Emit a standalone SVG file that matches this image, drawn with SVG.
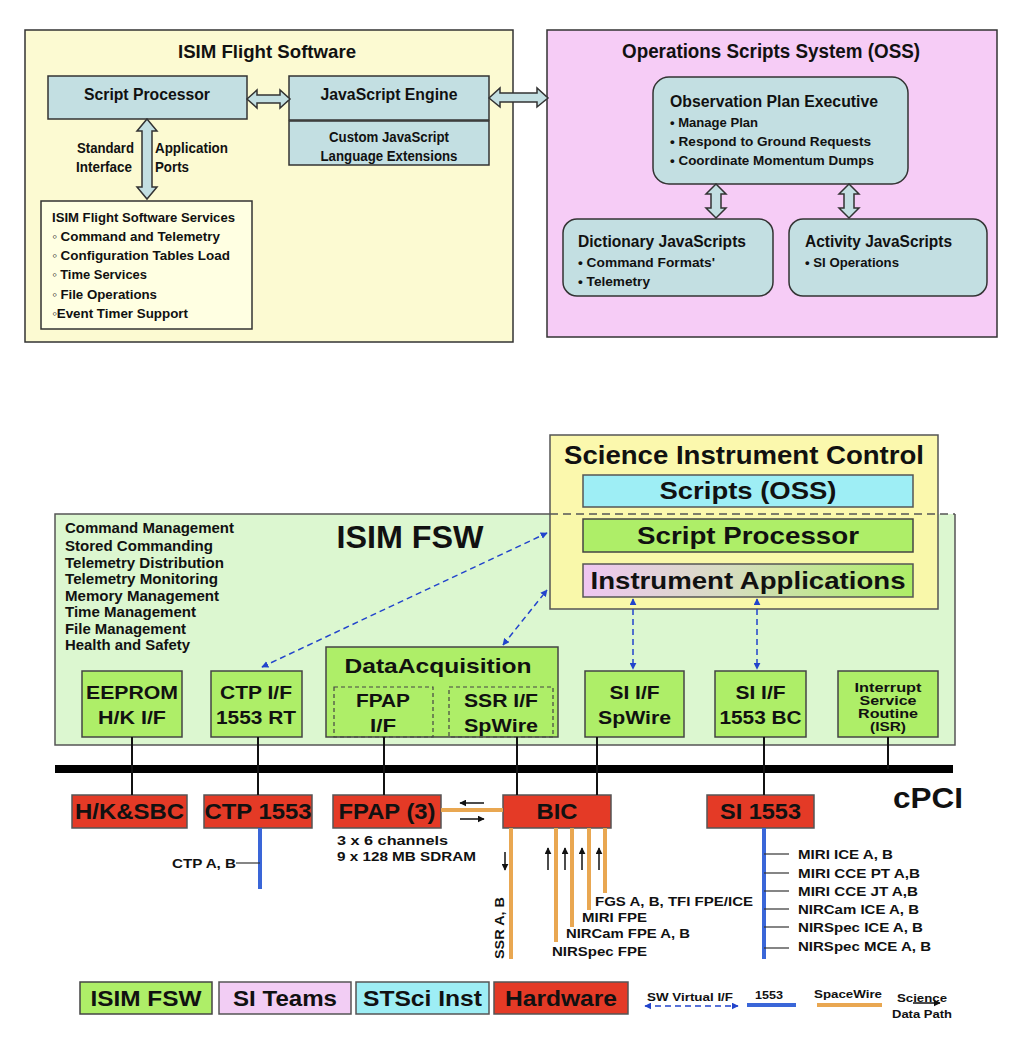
<svg xmlns="http://www.w3.org/2000/svg" width="1022" height="1053" viewBox="0 0 1022 1053">
<style>
text{font-family:"Liberation Sans",Arial,sans-serif;font-weight:bold;fill:#111}
.c{text-anchor:middle}
.e{text-anchor:end}
.blk{fill:#C3DFE2;stroke:#333;stroke-width:1.5}
.grn{fill:#AEEE68;stroke:#444;stroke-width:1.5}
.red{fill:#E43A26;stroke:#555;stroke-width:1.5}
.dash{fill:none;stroke:#444;stroke-width:1.2;stroke-dasharray:4 3}
.bar{fill:#C3DFE2;stroke:#333;stroke-width:1.5}
.wire{stroke:#111;stroke-width:2;fill:none}
.sw{stroke:#E9A751;stroke-width:4;fill:none}
.b1553{stroke:#3A66D8;stroke-width:4;fill:none}
.virt{stroke:#2244CC;stroke-width:1.5;stroke-dasharray:6 4;fill:none;marker-start:url(#bh);marker-end:url(#bh)}
.data{stroke:#111;stroke-width:1.5;fill:none;marker-end:url(#ah)}
.tick{stroke:#333;stroke-width:1.2}
</style>
<defs>
<marker id="bh" viewBox="0 0 10 10" refX="9" refY="5" markerWidth="7" markerHeight="7" markerUnits="userSpaceOnUse" orient="auto-start-reverse"><path d="M0,0 L10,5 L0,10 z" fill="#2244CC"/></marker>
<marker id="ah" viewBox="0 0 10 10" refX="9" refY="5" markerWidth="7" markerHeight="7" markerUnits="userSpaceOnUse" orient="auto"><path d="M0,0 L10,5 L0,10 z" fill="#111"/></marker>
<linearGradient id="ia" x1="0" y1="0" x2="1" y2="0"><stop offset="0" stop-color="#EFC6F2"/><stop offset="0.45" stop-color="#D6DDBF"/><stop offset="1" stop-color="#ADEE66"/></linearGradient>
</defs>
<rect width="1022" height="1053" fill="#fff"/>

<!-- TOP LEFT: ISIM Flight Software -->
<g id="isim-flight-software">
<rect x="25" y="30" width="488" height="312" fill="#FCFAD2" stroke="#333" stroke-width="1.5"/>
<text class="c" x="267" y="58" font-size="19" textLength="178" lengthAdjust="spacingAndGlyphs">ISIM Flight Software</text>
</g>
<g id="script-processor-top">
<rect class="blk" x="48" y="76" width="199" height="43"/>
<text class="c" x="147" y="100" font-size="16" textLength="126" lengthAdjust="spacingAndGlyphs">Script Processor</text>
</g>
<g id="javascript-engine">
<rect class="blk" x="289" y="76" width="200" height="44"/>
<text class="c" x="389" y="100" font-size="16" textLength="137" lengthAdjust="spacingAndGlyphs">JavaScript Engine</text>
</g>
<g id="custom-js-ext">
<rect class="blk" x="289" y="121" width="200" height="44"/>
<text class="c" x="389" y="142" font-size="14" textLength="120" lengthAdjust="spacingAndGlyphs">Custom JavaScript</text>
<text class="c" x="389" y="161" font-size="14" textLength="137" lengthAdjust="spacingAndGlyphs">Language Extensions</text>
</g>
<g id="fsw-services">
<rect x="41" y="201" width="211" height="128" fill="#FFFFE2" stroke="#333" stroke-width="1.5"/>
<text x="52" y="222" font-size="13.5" textLength="183" lengthAdjust="spacingAndGlyphs">ISIM Flight Software Services</text>
<text x="52" y="241" font-size="13.5" textLength="168" lengthAdjust="spacingAndGlyphs">◦ Command and Telemetry</text>
<text x="52" y="260" font-size="13.5" textLength="178" lengthAdjust="spacingAndGlyphs">◦ Configuration Tables Load</text>
<text x="52" y="279" font-size="13.5" textLength="95" lengthAdjust="spacingAndGlyphs">◦ Time Services</text>
<text x="52" y="299" font-size="13.5" textLength="105" lengthAdjust="spacingAndGlyphs">◦ File Operations</text>
<text x="52" y="318" font-size="13.5" textLength="136" lengthAdjust="spacingAndGlyphs">◦Event Timer Support</text>
</g>

<!-- TOP RIGHT: OSS -->
<g id="oss">
<rect x="547" y="30" width="450" height="307" fill="#F6CCF6" stroke="#333" stroke-width="1.5"/>
<text class="c" x="771" y="58" font-size="20" textLength="298" lengthAdjust="spacingAndGlyphs">Operations Scripts System (OSS)</text>
</g>
<g id="observation-plan-executive">
<rect class="blk" x="653" y="77" width="255" height="107" rx="16"/>
<text x="670" y="107" font-size="16" textLength="208" lengthAdjust="spacingAndGlyphs">Observation Plan Executive</text>
<text x="670" y="127" font-size="13" textLength="88" lengthAdjust="spacingAndGlyphs">• Manage Plan</text>
<text x="670" y="146" font-size="13" textLength="201" lengthAdjust="spacingAndGlyphs">• Respond  to Ground Requests</text>
<text x="670" y="165" font-size="13" textLength="204" lengthAdjust="spacingAndGlyphs">• Coordinate Momentum Dumps</text>
</g>
<g id="dictionary-javascripts">
<rect class="blk" x="563" y="219" width="210" height="77" rx="14"/>
<text x="578" y="247" font-size="16" textLength="168" lengthAdjust="spacingAndGlyphs">Dictionary JavaScripts</text>
<text x="578" y="267" font-size="13" textLength="137" lengthAdjust="spacingAndGlyphs">• Command Formats'</text>
<text x="578" y="286" font-size="13" textLength="72" lengthAdjust="spacingAndGlyphs">• Telemetry</text>
</g>
<g id="activity-javascripts">
<rect class="blk" x="789" y="219" width="198" height="77" rx="14"/>
<text x="805" y="247" font-size="16" textLength="147" lengthAdjust="spacingAndGlyphs">Activity JavaScripts</text>
<text x="805" y="267" font-size="13" textLength="94" lengthAdjust="spacingAndGlyphs">• SI Operations</text>
</g>

<!-- top connectors -->
<g id="top-connectors">
<polygon class="bar" points="247,99 257,90 257,95 280,95 280,90 290,99 280,108 280,103 257,103 257,108"/>
<polygon class="bar" points="489,98 500,88 500,93 537,93 537,88 548,98 537,107 537,102 500,102 500,107"/>
<polygon class="bar" points="147,119 157,131 152,131 152,187 157,187 147,199 137,187 142,187 142,131 137,131"/>
<polygon class="bar" points="716,184 726,194 721,194 721,208 726,208 716,218 706,208 711,208 711,194 706,194"/>
<polygon class="bar" points="849,184 859,194 854,194 854,208 859,208 849,218 839,208 844,208 844,194 839,194"/>
<text class="e" x="134" y="153" font-size="14" textLength="57" lengthAdjust="spacingAndGlyphs">Standard</text>
<text class="e" x="132" y="172" font-size="14" textLength="56" lengthAdjust="spacingAndGlyphs">Interface</text>
<text x="155" y="153" font-size="14" textLength="73" lengthAdjust="spacingAndGlyphs">Application</text>
<text x="155" y="172" font-size="14" textLength="34" lengthAdjust="spacingAndGlyphs">Ports</text>
</g>

<!-- BOTTOM: ISIM FSW -->
<g id="isim-fsw">
<path d="M550,514 L55,514 L55,745 L955,745 L955,514" fill="#DCF7D0" stroke="#555" stroke-width="1.5"/>
<text class="c" x="410" y="548" font-size="32" textLength="147" lengthAdjust="spacingAndGlyphs">ISIM FSW</text>
<text x="65" y="533" font-size="14" textLength="169" lengthAdjust="spacingAndGlyphs">Command Management</text>
<text x="65" y="551" font-size="14" textLength="148" lengthAdjust="spacingAndGlyphs">Stored Commanding</text>
<text x="65" y="568" font-size="14" textLength="159" lengthAdjust="spacingAndGlyphs">Telemetry Distribution</text>
<text x="65" y="584" font-size="14" textLength="153" lengthAdjust="spacingAndGlyphs">Telemetry Monitoring</text>
<text x="65" y="601" font-size="14" textLength="154" lengthAdjust="spacingAndGlyphs">Memory Management</text>
<text x="65" y="617" font-size="14" textLength="131" lengthAdjust="spacingAndGlyphs">Time Management</text>
<text x="65" y="634" font-size="14" textLength="121" lengthAdjust="spacingAndGlyphs">File Management</text>
<text x="65" y="650" font-size="14" textLength="125" lengthAdjust="spacingAndGlyphs">Health and Safety</text>
</g>
<g id="science-instrument-control">
<rect x="550" y="435" width="388" height="174" fill="#FBF7A6" fill-opacity="0.92" stroke="#555" stroke-width="1.5"/>
<line x1="550" y1="514" x2="955" y2="514" stroke="#555" stroke-width="1.5" stroke-dasharray="8 5"/>
<text class="c" x="744" y="464" font-size="26" textLength="360" lengthAdjust="spacingAndGlyphs">Science Instrument Control</text>
</g>
<g id="scripts-oss">
<rect x="583" y="475" width="330" height="32" fill="#9EEEF5" stroke="#555" stroke-width="1.5"/>
<text class="c" x="748" y="499" font-size="24" textLength="177" lengthAdjust="spacingAndGlyphs">Scripts (OSS)</text>
</g>
<g id="script-processor">
<rect class="grn" x="583" y="519" width="330" height="33"/>
<text class="c" x="748" y="544" font-size="24" textLength="222" lengthAdjust="spacingAndGlyphs">Script Processor</text>
</g>
<g id="instrument-applications">
<rect x="583" y="564" width="330" height="33" fill="url(#ia)" stroke="#555" stroke-width="1.5"/>
<text class="c" x="748" y="589" font-size="24" textLength="315" lengthAdjust="spacingAndGlyphs">Instrument Applications</text>
</g>
<g id="eeprom">
<rect class="grn" x="82" y="671" width="100" height="66"/>
<text class="c" x="132" y="699" font-size="19" textLength="92" lengthAdjust="spacingAndGlyphs">EEPROM</text>
<text class="c" x="132" y="724" font-size="19" textLength="68" lengthAdjust="spacingAndGlyphs">H/K I/F</text>
</g>
<g id="ctp-if">
<rect class="grn" x="211" y="671" width="91" height="66"/>
<text class="c" x="256" y="699" font-size="19" textLength="72" lengthAdjust="spacingAndGlyphs">CTP I/F</text>
<text class="c" x="256" y="724" font-size="19" textLength="80" lengthAdjust="spacingAndGlyphs">1553 RT</text>
</g>
<g id="data-acquisition">
<rect class="grn" x="326" y="647" width="232" height="90"/>
<text class="c" x="438" y="673" font-size="21" textLength="187" lengthAdjust="spacingAndGlyphs">DataAcquisition</text>
</g>
<g id="fpap-if">
<rect class="dash" x="334" y="687" width="99" height="50"/>
<text class="c" x="383" y="707" font-size="19" textLength="54" lengthAdjust="spacingAndGlyphs">FPAP</text>
<text class="c" x="383" y="732" font-size="19" textLength="26" lengthAdjust="spacingAndGlyphs">I/F</text>
</g>
<g id="ssr-if">
<rect class="dash" x="449" y="687" width="104" height="50"/>
<text class="c" x="501" y="707" font-size="19" textLength="74" lengthAdjust="spacingAndGlyphs">SSR I/F</text>
<text class="c" x="501" y="732" font-size="19" textLength="74" lengthAdjust="spacingAndGlyphs">SpWire</text>
</g>
<g id="si-if-spwire">
<rect class="grn" x="585" y="671" width="99" height="66"/>
<text class="c" x="634.5" y="699" font-size="19" textLength="50" lengthAdjust="spacingAndGlyphs">SI I/F</text>
<text class="c" x="634.5" y="724" font-size="19" textLength="73" lengthAdjust="spacingAndGlyphs">SpWire</text>
</g>
<g id="si-if-1553bc">
<rect class="grn" x="715" y="671" width="91" height="66"/>
<text class="c" x="760.5" y="699" font-size="19" textLength="50" lengthAdjust="spacingAndGlyphs">SI I/F</text>
<text class="c" x="760.5" y="724" font-size="19" textLength="82" lengthAdjust="spacingAndGlyphs">1553 BC</text>
</g>
<g id="isr">
<rect class="grn" x="838" y="671" width="100" height="66"/>
<text class="c" x="888" y="692" font-size="13" textLength="67" lengthAdjust="spacingAndGlyphs">Interrupt</text>
<text class="c" x="888" y="705" font-size="13" textLength="57" lengthAdjust="spacingAndGlyphs">Service</text>
<text class="c" x="888" y="718" font-size="13" textLength="60" lengthAdjust="spacingAndGlyphs">Routine</text>
<text class="c" x="888" y="731" font-size="13" textLength="36" lengthAdjust="spacingAndGlyphs">(ISR)</text>
</g>

<!-- bus -->
<g id="cpci-bus">
<rect x="55" y="765" width="898" height="8" fill="#000"/>
<text class="c" x="928" y="808" font-size="30" textLength="70" lengthAdjust="spacingAndGlyphs">cPCI</text>
</g>

<!-- hardware -->
<g id="hk-sbc">
<rect class="red" x="72" y="795" width="115" height="33"/>
<text class="c" x="129.5" y="819" font-size="22" textLength="109" lengthAdjust="spacingAndGlyphs">H/K&amp;SBC</text>
</g>
<g id="ctp-1553">
<rect class="red" x="204" y="795" width="108" height="33"/>
<text class="c" x="258" y="819" font-size="22" textLength="107" lengthAdjust="spacingAndGlyphs">CTP 1553</text>
</g>
<g id="fpap-3">
<rect class="red" x="333" y="795" width="108" height="33"/>
<text class="c" x="387" y="819" font-size="22" textLength="97" lengthAdjust="spacingAndGlyphs">FPAP (3)</text>
<text x="337" y="845" font-size="13" textLength="111" lengthAdjust="spacingAndGlyphs">3 x 6 channels</text>
<text x="337" y="861" font-size="13" textLength="139" lengthAdjust="spacingAndGlyphs">9 x 128 MB SDRAM</text>
</g>
<g id="bic">
<rect class="red" x="503" y="795" width="108" height="33"/>
<text class="c" x="557" y="819" font-size="22" textLength="41" lengthAdjust="spacingAndGlyphs">BIC</text>
</g>
<g id="si-1553">
<rect class="red" x="707" y="795" width="107" height="33"/>
<text class="c" x="760.5" y="819" font-size="22" textLength="81" lengthAdjust="spacingAndGlyphs">SI 1553</text>
</g>

<!-- connectors -->
<g id="connectors">
<line class="wire" x1="132" y1="737" x2="132" y2="795"/>
<line class="wire" x1="258" y1="737" x2="258" y2="795"/>
<line class="wire" x1="384" y1="737" x2="384" y2="795"/>
<line class="wire" x1="517" y1="737" x2="517" y2="795"/>
<line class="wire" x1="597" y1="737" x2="597" y2="795"/>
<line class="wire" x1="764" y1="737" x2="764" y2="795"/>
<line class="wire" x1="888" y1="737" x2="888" y2="769"/>

<line class="virt" x1="262" y1="667" x2="547" y2="533"/>
<line class="virt" x1="503" y1="645" x2="547" y2="590"/>
<line class="virt" x1="633" y1="599" x2="633" y2="669"/>
<line class="virt" x1="757" y1="599" x2="757" y2="669"/>

<line class="sw" x1="441" y1="810" x2="503" y2="810"/>
<line class="data" x1="484" y1="803" x2="460" y2="803"/>
<line class="data" x1="460" y1="819" x2="484" y2="819"/>

<line class="b1553" x1="260" y1="828" x2="260" y2="889"/>
<line class="tick" x1="236" y1="863" x2="260" y2="863"/>
<text class="e" x="236" y="868" font-size="13" textLength="64" lengthAdjust="spacingAndGlyphs">CTP A, B</text>

<line class="sw" x1="511" y1="828" x2="511" y2="959"/>
<line class="sw" x1="556" y1="828" x2="556" y2="942"/>
<line class="sw" x1="572" y1="828" x2="572" y2="927"/>
<line class="sw" x1="589" y1="828" x2="589" y2="910"/>
<line class="sw" x1="605" y1="828" x2="605" y2="893"/>
<line class="data" x1="505" y1="852" x2="505" y2="870"/>
<line class="data" x1="548" y1="870" x2="548" y2="848"/>
<line class="data" x1="565" y1="870" x2="565" y2="848"/>
<line class="data" x1="582" y1="870" x2="582" y2="848"/>
<line class="data" x1="599" y1="870" x2="599" y2="848"/>
<text class="c" transform="translate(504,928) rotate(-90)" font-size="13" textLength="62" lengthAdjust="spacingAndGlyphs">SSR A, B</text>
<text x="595" y="906" font-size="13" textLength="158" lengthAdjust="spacingAndGlyphs">FGS A, B, TFI FPE/ICE</text>
<text x="582" y="922" font-size="13" textLength="65" lengthAdjust="spacingAndGlyphs">MIRI FPE</text>
<text x="566" y="938" font-size="13" textLength="124" lengthAdjust="spacingAndGlyphs">NIRCam FPE A, B</text>
<text x="552" y="956" font-size="13" textLength="95" lengthAdjust="spacingAndGlyphs">NIRSpec FPE</text>

<line class="b1553" x1="764" y1="828" x2="764" y2="959"/>
<line class="tick" x1="764" y1="854" x2="789" y2="854"/>
<line class="tick" x1="764" y1="873" x2="789" y2="873"/>
<line class="tick" x1="764" y1="891" x2="789" y2="891"/>
<line class="tick" x1="764" y1="909" x2="789" y2="909"/>
<line class="tick" x1="764" y1="927" x2="789" y2="927"/>
<line class="tick" x1="764" y1="948" x2="789" y2="948"/>
<text x="798" y="859" font-size="13" textLength="95" lengthAdjust="spacingAndGlyphs">MIRI ICE A, B</text>
<text x="798" y="878" font-size="13" textLength="122" lengthAdjust="spacingAndGlyphs">MIRI CCE PT A,B</text>
<text x="798" y="896" font-size="13" textLength="120" lengthAdjust="spacingAndGlyphs">MIRI CCE JT A,B</text>
<text x="798" y="914" font-size="13" textLength="121" lengthAdjust="spacingAndGlyphs">NIRCam ICE A, B</text>
<text x="798" y="932" font-size="13" textLength="125" lengthAdjust="spacingAndGlyphs">NIRSpec ICE A, B</text>
<text x="798" y="951" font-size="13" textLength="133" lengthAdjust="spacingAndGlyphs">NIRSpec MCE A, B</text>
</g>

<!-- legend -->
<g id="legend">
<rect class="grn" x="80" y="982" width="132" height="32"/>
<text class="c" x="146" y="1006" font-size="22" textLength="111" lengthAdjust="spacingAndGlyphs">ISIM FSW</text>
<rect x="219" y="982" width="132" height="32" fill="#F2CDF4" stroke="#555" stroke-width="1.5"/>
<text class="c" x="285" y="1006" font-size="22" textLength="104" lengthAdjust="spacingAndGlyphs">SI Teams</text>
<rect x="356" y="982" width="133" height="32" fill="#9EEEF5" stroke="#555" stroke-width="1.5"/>
<text class="c" x="422.5" y="1006" font-size="22" textLength="119" lengthAdjust="spacingAndGlyphs">STSci Inst</text>
<rect class="red" x="494" y="982" width="134" height="32"/>
<text class="c" x="561" y="1006" font-size="22" textLength="112" lengthAdjust="spacingAndGlyphs">Hardware</text>
<text x="647" y="1001" font-size="11" textLength="86" lengthAdjust="spacingAndGlyphs">SW Virtual I/F</text>
<line class="virt" x1="645" y1="1006" x2="738" y2="1006"/>
<text x="755" y="999" font-size="11" textLength="28" lengthAdjust="spacingAndGlyphs">1553</text>
<line class="b1553" x1="747" y1="1005" x2="796" y2="1005"/>
<text x="814" y="998" font-size="11" textLength="68" lengthAdjust="spacingAndGlyphs">SpaceWire</text>
<line class="sw" x1="817" y1="1005" x2="882" y2="1005"/>
<text x="897" y="1002" font-size="11" textLength="50" lengthAdjust="spacingAndGlyphs">Science</text>
<line class="data" x1="913" y1="1003" x2="940" y2="1003"/>
<text x="892" y="1018" font-size="11" textLength="60" lengthAdjust="spacingAndGlyphs">Data Path</text>
</g>
</svg>
